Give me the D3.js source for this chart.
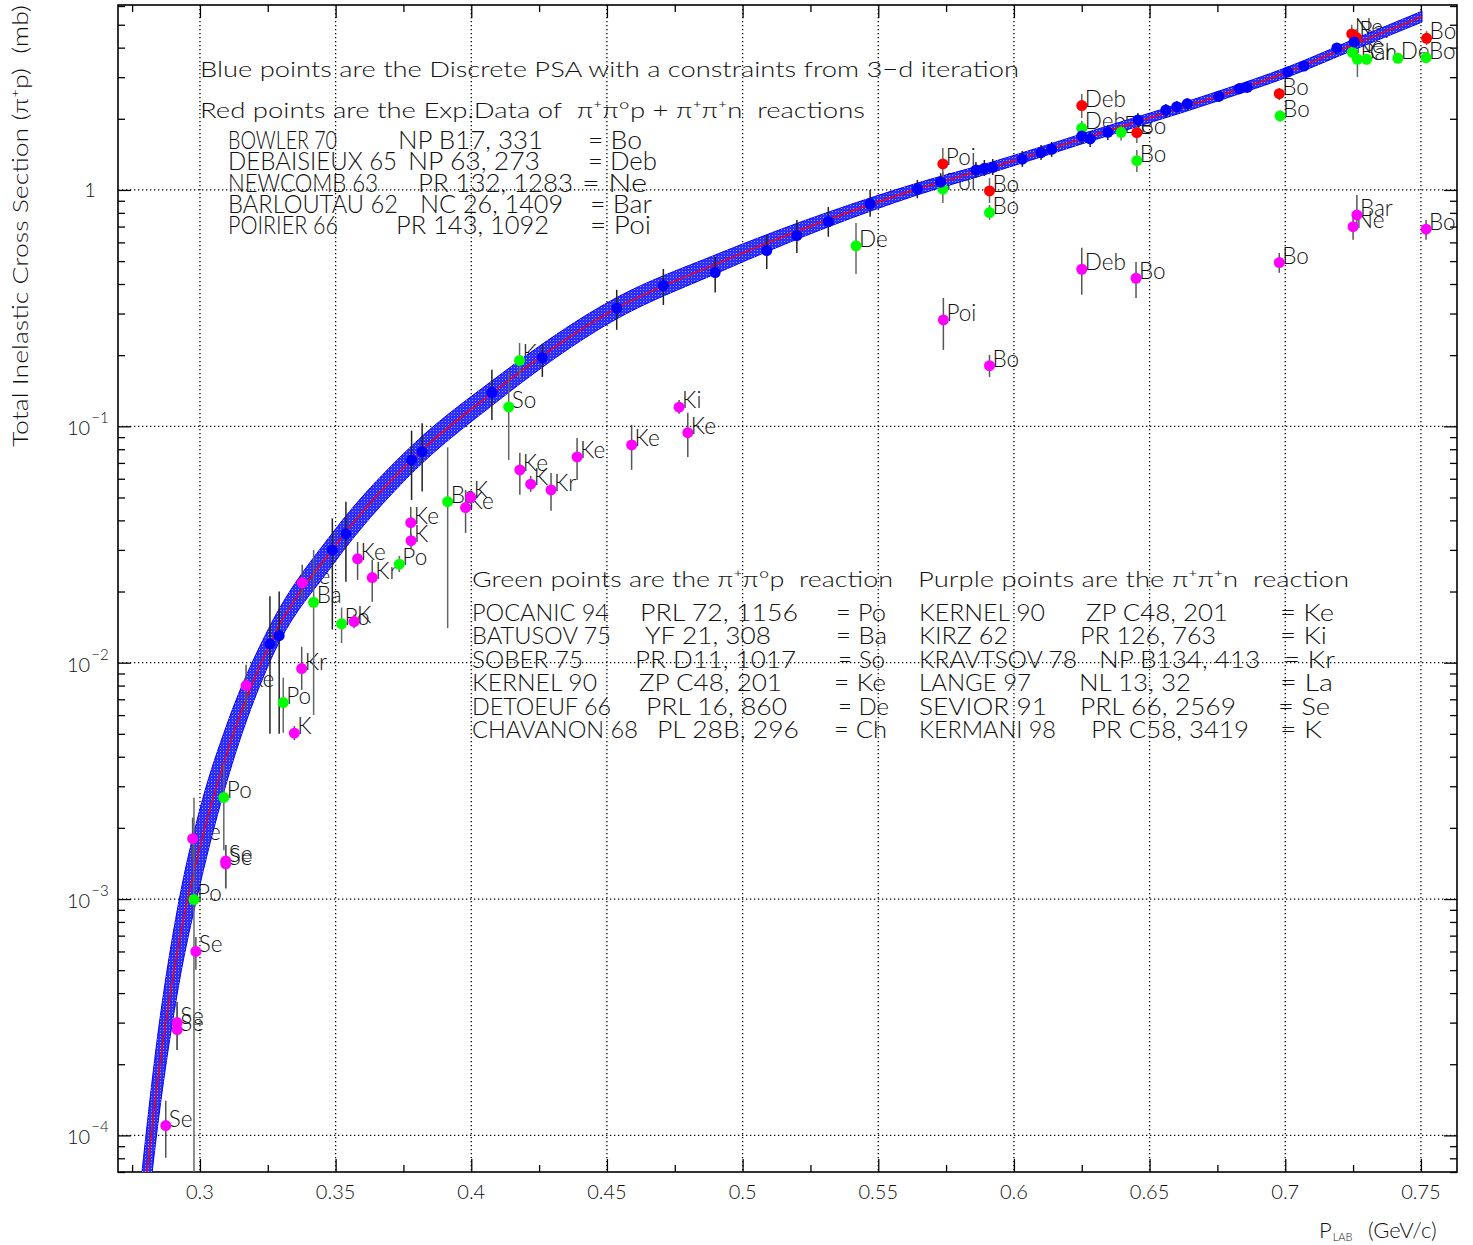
<!DOCTYPE html>
<html>
<head>
<meta charset="utf-8">
<script src="https://cdn.jsdelivr.net/npm/d3@7"></script>
<style>
  body { margin: 0; background: #fff; }
  text { font-family: Lato, "DejaVu Sans", sans-serif; font-weight: 300; fill: #111; white-space: pre; }
</style>
</head>
<body>
<svg id="chart" width="1473" height="1245"></svg>
<script>
// ---------- axes ----------
const xDomain = [0.2698, 0.7633];          // P_LAB (GeV/c)
const yDomain = [7.0e-5, 6.06];            // sigma (mb), log scale
const xMajorTicks = [0.3, 0.35, 0.4, 0.45, 0.5, 0.55, 0.6, 0.65, 0.7, 0.75];
const xTickLabels = ["0.3", "0.35", "0.4", "0.45", "0.5", "0.55", "0.6", "0.65", "0.7", "0.75"];
const xMinorTicks = [0.275, 0.325, 0.375, 0.425, 0.475, 0.525, 0.575, 0.625, 0.675, 0.725];
const yDecades = [1e-4, 1e-3, 1e-2, 1e-1, 1];
const yTickLabels = [["10", "\u22124"], ["10", "\u22123"], ["10", "\u22122"], ["10", "\u22121"], ["1", ""]];

// ---------- PSA curve with its error band ----------
const curveMomentum = [0.2785, 0.2843, 0.2920, 0.3000, 0.3100, 0.3258, 0.3488, 0.3781, 0.4076, 0.4536,
                       0.4899, 0.5316, 0.5644, 0.5922, 0.6250, 0.6755, 0.7009, 0.7254, 0.7504];
const curveSigma    = [4.27e-5, 1.66e-4, 6.31e-4, 1.66e-3, 4.17e-3, 0.01202, 0.0302, 0.0724, 0.138, 0.316,
                       0.484, 0.750, 1.009, 1.250, 1.644, 2.500, 3.155, 4.127, 5.408];
const curveBandDex  = [0.20, 0.19, 0.175, 0.16, 0.12, 0.075, 0.068, 0.058, 0.052, 0.045,
                       0.040, 0.031, 0.025, 0.022, 0.021, 0.020, 0.021, 0.022, 0.023];

// ---------- blue: discrete PSA points [p, sigma, low, high] ----------
const psaPoints = [
  [0.3258, 0.0120, 0.0050, 0.0191], [0.3292, 0.0130, 0.0050, 0.0200],
  [0.3488, 0.0300, 0.0138, 0.0408], [0.3538, 0.0351, 0.0220, 0.0479],
  [0.3780, 0.0721, 0.0488, 0.0959], [0.3819, 0.0781, 0.0530, 0.1031],
  [0.4076, 0.139, 0.1064, 0.1733],  [0.4262, 0.1955, 0.1618, 0.2208],
  [0.4536, 0.316, 0.256, 0.378],    [0.4708, 0.394, 0.326, 0.463],
  [0.4899, 0.447, 0.368, 0.522],    [0.5089, 0.554, 0.463, 0.645],
  [0.5200, 0.641, 0.541, 0.747],    [0.5316, 0.734, 0.634, 0.847],
  [0.5470, 0.873, 0.771, 1.000],    [0.5644, 1.010, 0.922, 1.102],
  [0.5730, 1.078, 0.987, 1.177],    [0.5860, 1.215, 1.124, 1.314],
  [0.5891, 1.235, 1.146, 1.339],    [0.5922, 1.247, 1.157, 1.352],
  [0.6031, 1.349, 1.251, 1.462],    [0.6100, 1.438, 1.339, 1.550],
  [0.6139, 1.486, 1.379, 1.596],    [0.6250, 1.692, 1.565, 1.829],
  [0.6281, 1.643, 1.520, 1.777],    [0.6346, 1.754, 1.627, 1.884],
  [0.6457, 1.978, 1.847, 2.117],    [0.6560, 2.180, 2.036, 2.311],
  [0.6600, 2.251, 2.117, 2.379],    [0.6639, 2.318, 2.180, 2.450],
  [0.6755, 2.491, 2.356, 2.623],    [0.6830, 2.683, 2.547, 2.836],
  [0.6860, 2.719, 2.572, 2.864],    [0.7009, 3.156, 3.006, 3.313],
  [0.7069, 3.345, 3.187, 3.513],    [0.7190, 3.988, 3.798, 4.188],
  [0.7254, 4.228, 3.988, 4.439]
];

// ---------- red: pi+pi0p + pi+pi+n sum [p, sigma, low, high, ref] ----------
const sumPoints = [
  [0.5738, 1.288, 1.102, 1.506, "Poi"], [0.5910, 0.990, 0.881, 1.124, "Bo"],
  [0.6250, 2.274, 2.017, 2.547, "Deb"], [0.6453, 1.747, 1.580, 1.940, "Bo"],
  [0.6978, 2.555, 2.400, 2.700, "Bo"],  [0.7245, 4.570, 4.200, 5.000, "Ne"],
  [0.7262, 4.420, 4.100, 4.800, "Bar"], [0.7521, 4.380, 4.100, 4.700, "Bo"]
];

// ---------- green: pi+pi0p [p, sigma, low, high, ref] ----------
const pi0pPoints = [
  [0.7247, 3.823, 3.600, 4.050, "Ne"],  [0.7266, 3.572, 3.006, 3.900, "Bar"],
  [0.7300, 3.572, 3.400, 3.750, "Ch"],  [0.7415, 3.607, 3.450, 3.780, "De"],
  [0.7519, 3.628, 3.450, 3.800, "Bo"],  [0.6981, 2.056, 1.950, 2.170, "Bo"],
  [0.6250, 1.824, 1.700, 1.960, "Deb"], [0.6395, 1.754, 1.620, 1.900, "De"],
  [0.6453, 1.330, 1.191, 1.476, "Bo"],  [0.5738, 1.007, 0.881, 1.191, "Poi"],
  [0.5910, 0.802, 0.747, 0.864, "Bo"],  [0.5418, 0.580, 0.441, 0.725, "De"],
  [0.4178, 0.190, 0.160, 0.2254, "Ke"], [0.4138, 0.1208, 0.0721, 0.1698, "So"],
  [0.3913, 0.0480, 0.0140, 0.0815, "Ba"], [0.3735, 0.0261, 0.0242, 0.0283, "Po"],
  [0.3419, 0.0180, 0.0060, 0.0300, "Ba"], [0.3522, 0.0146, 0.0121, 0.0171, "Po"],
  [0.3307, 0.00678, 0.00505, 0.00863, "Po"], [0.3088, 0.00269, 0.00161, 0.00377, "Po"],
  [0.2978, 0.000995, 0.00001, 0.00268, "Po"]
];

// ---------- purple: pi+pi+n [p, sigma, low, high, ref] ----------
const pipnPoints = [
  [0.7264, 0.784, 0.710, 0.953, "Bar"],  [0.7250, 0.6995, 0.615, 0.799, "Ne"],
  [0.7519, 0.682, 0.615, 0.747, "Bo"],   [0.6978, 0.4927, 0.446, 0.541, "Bo"],
  [0.6250, 0.4618, 0.360, 0.569, "Deb"], [0.6450, 0.4231, 0.349, 0.496, "Bo"],
  [0.5740, 0.2818, 0.2105, 0.349, "Poi"], [0.5910, 0.1806, 0.1618, 0.2005, "Bo"],
  [0.4766, 0.1205, 0.1129, 0.1293, "Ki"], [0.4798, 0.0940, 0.0742, 0.114, "Ke"],
  [0.4591, 0.0834, 0.0654, 0.1014, "Ke"], [0.4390, 0.0742, 0.0593, 0.0893, "Ke"],
  [0.4179, 0.0654, 0.0513, 0.0772, "Ke"], [0.4219, 0.0569, 0.0528, 0.0617, "K"],
  [0.4294, 0.0538, 0.0439, 0.0635, "Kr"], [0.3979, 0.0453, 0.0354, 0.0538, "Ke"],
  [0.3998, 0.0501, 0.0470, 0.0535, "K"],  [0.3777, 0.0391, 0.0331, 0.0456, "Ke"],
  [0.3778, 0.0328, 0.0305, 0.0352, "K"],  [0.3581, 0.0275, 0.0224, 0.0324, "Ke"],
  [0.3635, 0.0229, 0.0181, 0.0272, "Kr"], [0.3568, 0.01493, 0.0140, 0.0160, "K"],
  [0.3377, 0.02176, 0.01843, 0.02593, "Ke"], [0.3375, 0.00944, 0.00767, 0.01167, "Kr"],
  [0.3348, 0.00503, 0.00470, 0.00540, "K"], [0.3170, 0.0080, 0.0062, 0.0098, "Ke"],
  [0.2973, 0.00180, 0.00147, 0.00221, "Ke"], [0.3095, 0.00145, 0.00111, 0.00169, "Se"],
  [0.3095, 0.00141, 0.00111, 0.00169, "Se"], [0.2985, 0.00060, 0.000502, 0.00069, "Se"],
  [0.2916, 0.00030, 0.000230, 0.000367, "Se"], [0.2916, 0.00028, 0.000230, 0.000367, "Se"],
  [0.2874, 0.00011, 0.0000804, 0.00014, "Se"]
];

// ---------- text blocks ----------
const headerLines = [
  "Blue points are the Discrete PSA with a constraints from 3\u2212d iteration",
  "Red points are the Exp.Data of  \u03c0\u207a\u03c0\u00b0p + \u03c0\u207a\u03c0\u207an  reactions"
];
const sumRefs = [
  ["BOWLER 70", "NP B17, 331", "= Bo"],
  ["DEBAISIEUX 65", "NP 63, 273", "= Deb"],
  ["NEWCOMB 63", "PR 132, 1283", "= Ne"],
  ["BARLOUTAU 62", "NC 26, 1409", "= Bar"],
  ["POIRIER 66", "PR 143, 1092", "= Poi"]
];
const pi0pTitle = "Green points are the \u03c0\u207a\u03c0\u00b0p  reaction";
const pipnTitle = "Purple points are the \u03c0\u207a\u03c0\u207an  reaction";
const pi0pRefs = [
  ["POCANIC 94", "PRL 72, 1156", "= Po"],
  ["BATUSOV 75", "YF 21, 308", "= Ba"],
  ["SOBER 75", "PR D11, 1017", "= So"],
  ["KERNEL 90", "ZP C48, 201", "= Ke"],
  ["DETOEUF 66", "PRL 16, 860", "= De"],
  ["CHAVANON 68", "PL 28B, 296", "= Ch"]
];
const pipnRefs = [
  ["KERNEL 90", "ZP C48, 201", "= Ke"],
  ["KIRZ 62", "PR 126, 763", "= Ki"],
  ["KRAVTSOV 78", "NP B134, 413", "= Kr"],
  ["LANGE 97", "NL 13, 32", "= La"],
  ["SEVIOR 91", "PRL 66, 2569", "= Se"],
  ["KERMANI 98", "PR C58, 3419", "= K"]
];

// ================= drawing =================
const svg = d3.select("#chart");
const L = 118, R = 1457, T = 5, B = 1172;
const x = d3.scaleLinear().domain(xDomain).range([L, R]);
const y = d3.scaleLog().domain(yDomain).range([B, T]);

const defs = svg.append("defs");
defs.append("clipPath").attr("id", "plotClip")
  .append("rect").attr("x", L).attr("y", T).attr("width", R - L).attr("height", B - T);
// light speckle laid over the blue band
const pat = defs.append("pattern").attr("id", "bandSpeckle")
  .attr("patternUnits", "userSpaceOnUse").attr("width", 3).attr("height", 3);
pat.append("rect").attr("x", 1).attr("y", 1).attr("width", 1).attr("height", 1).attr("fill", "#9a9aff");

// grid
const grid = svg.append("g").attr("stroke", "#000").attr("stroke-width", 1.3)
  .attr("stroke-dasharray", "1.3,2.7");
grid.selectAll(".gx").data(xMajorTicks).join("line")
  .attr("x1", d => x(d)).attr("x2", d => x(d)).attr("y1", T).attr("y2", B);
grid.selectAll(".gy").data(yDecades).join("line")
  .attr("x1", L).attr("x2", R).attr("y1", d => y(d)).attr("y2", d => y(d));

// axes ticks (inward), drawn with d3 axes
const yMinor = [];
for (let e = -5; e <= 0; e++) for (let m = 2; m <= 9; m++) {
  const v = m * Math.pow(10, e);
  if (v > yDomain[0] && v < yDomain[1]) yMinor.push(v);
}
function axisGroup(axis, tx, ty) {
  const g = svg.append("g").attr("transform", `translate(${tx},${ty})`).call(axis);
  g.select(".domain").remove();
  g.selectAll("line").attr("stroke", "#000").attr("stroke-width", 1.3);
  g.selectAll("text").remove();
}
axisGroup(d3.axisBottom(x).tickValues(xMajorTicks).tickSize(-13), 0, B);
axisGroup(d3.axisBottom(x).tickValues(xMinorTicks).tickSize(-7), 0, B);
axisGroup(d3.axisTop(x).tickValues(xMajorTicks).tickSize(-13), 0, T);
axisGroup(d3.axisTop(x).tickValues(xMinorTicks).tickSize(-7), 0, T);
axisGroup(d3.axisLeft(y).tickValues(yDecades).tickSize(-13), L, 0);
axisGroup(d3.axisLeft(y).tickValues(yMinor).tickSize(-7), L, 0);
axisGroup(d3.axisRight(y).tickValues(yDecades).tickSize(-13), R, 0);
axisGroup(d3.axisRight(y).tickValues(yMinor).tickSize(-7), R, 0);

svg.append("rect").attr("x", L).attr("y", T).attr("width", R - L).attr("height", B - T)
  .attr("fill", "none").attr("stroke", "#000").attr("stroke-width", 1.6);

// tick labels
svg.append("g").selectAll("text").data(xMajorTicks).join("text")
  .attr("x", d => x(d)).attr("y", 1199).attr("text-anchor", "middle")
  .attr("font-size", 20).text((d, i) => xTickLabels[i]);
const yl = svg.append("g");
yDecades.forEach((d, i) => {
  const [base, sup] = yTickLabels[i];
  if (!sup) {
    yl.append("text").attr("x", 90).attr("y", y(d) + 7).attr("text-anchor", "middle")
      .attr("font-size", 20).text(base);
  } else {
    const t = yl.append("text").attr("x", 67).attr("y", y(d) + 9).attr("font-size", 20);
    t.append("tspan").text(base);
    t.append("tspan").attr("dy", -12).attr("dx", 1).attr("font-size", 15).text(sup);
  }
});

// axis titles
svg.append("text").attr("transform", "translate(28,5) rotate(-90)")
  .attr("text-anchor", "end").attr("font-size", 21).attr("textLength", 442)
  .attr("lengthAdjust", "spacingAndGlyphs")
  .text("Total Inelastic Cross Section (\u03c0\u207ap)  (mb)");
const xt = svg.append("text").attr("x", 1319).attr("y", 1238).attr("font-size", 22);
xt.append("tspan").text("P");
xt.append("tspan").attr("font-size", 11).attr("dy", 3).attr("dx", 1).text("LAB");
xt.append("tspan").attr("x", 1368).attr("dy", -3).text("(GeV/c)");

// header and reference tables
function txt(s, tx, ty, size, len) {
  const t = svg.append("text").attr("x", tx).attr("y", ty).attr("font-size", size).text(s);
  if (len) t.attr("textLength", len).attr("lengthAdjust", "spacingAndGlyphs");
  return t;
}
txt(headerLines[0], 200, 77, 22, 819);
txt(headerLines[1], 200, 118, 22, 665);
const sumLayout = {
  nameLen: [109, 169, 150, 170, 110],
  refX: [398, 408, 418, 420, 396], refLen: [145, 132, 155, 143, 153],
  eqX: [588, 588, 582, 590, 590], eqLen: [54, 69, 65, 62, 61]
};
sumRefs.forEach((row, i) => {
  const by = 149 + i * 21.3;
  txt(row[0], 228, by, 25, sumLayout.nameLen[i]);
  txt(row[1], sumLayout.refX[i], by, 25, sumLayout.refLen[i]);
  txt(row[2], sumLayout.eqX[i], by, 25, sumLayout.eqLen[i]);
});
txt(pi0pTitle, 472, 587, 22, 421);
txt(pipnTitle, 918, 587, 22, 431);
const pi0pLayout = {
  nameLen: [137, 139, 111, 125, 139, 166],
  refX: [640, 645, 635, 639, 646, 657], refLen: [158, 126, 161, 143, 141, 142],
  eqX: [836, 836, 838, 834, 838, 834], eqLen: [50, 51, 47, 52, 51, 53]
};
const pipnLayout = {
  nameLen: [126, 89, 158, 112, 128, 137],
  refX: [1086, 1080, 1099, 1079, 1080, 1091], refLen: [142, 136, 161, 112, 156, 158],
  eqX: [1280, 1280, 1284, 1280, 1278, 1280], eqLen: [54, 47, 51, 53, 52, 42]
};
[[pi0pRefs, pi0pLayout, 472], [pipnRefs, pipnLayout, 919]].forEach(([rows, lay, x0]) => {
  rows.forEach((row, i) => {
    const by = 621 + i * 23.4;
    txt(row[0], x0, by, 24, lay.nameLen[i]);
    txt(row[1], lay.refX[i], by, 24, lay.refLen[i]);
    txt(row[2], lay.eqX[i], by, 24, lay.eqLen[i]);
  });
});

// point labels (drawn under the band, as in the plot)
const labelled = [...sumPoints, ...pi0pPoints, ...pipnPoints];
const plot = svg.append("g").attr("clip-path", "url(#plotClip)");
plot.append("g").selectAll("text").data(labelled).join("text")
  .attr("x", d => x(d[0]) + 3).attr("y", d => y(d[1]) + 1)
  .attr("font-size", 22.5).attr("fill", "#222").text(d => d[4]);

// PSA band + central curve
const cdata = curveMomentum.map((p, i) => ({ p, s: curveSigma[i], b: curveBandDex[i] }));
const bandArea = d3.area().curve(d3.curveMonotoneX)
  .x(d => x(d.p)).y0(d => y(d.s / Math.pow(10, d.b))).y1(d => y(d.s * Math.pow(10, d.b)));
plot.append("path").datum(cdata).attr("d", bandArea)
  .attr("fill", "#2e2eff").attr("stroke", "#0000ff").attr("stroke-width", 1);
plot.append("path").datum(cdata).attr("d", bandArea).attr("fill", "url(#bandSpeckle)");
plot.append("path").datum(cdata)
  .attr("d", d3.line().curve(d3.curveMonotoneX).x(d => x(d.p)).y(d => y(d.s)))
  .attr("fill", "none").attr("stroke", "#ff0000").attr("stroke-width", 1.4);

// error bars and markers
const allSeries = [
  [sumPoints, "#ff0000", "#666"], [pi0pPoints, "#00ff00", "#666"],
  [pipnPoints, "#ff00ff", "#555"], [psaPoints, "#0000ff", "#222"]
];
allSeries.forEach(([pts, col, barCol]) => {
  plot.append("g").selectAll("line").data(pts).join("line")
    .attr("x1", d => x(d[0])).attr("x2", d => x(d[0]))
    .attr("y1", d => y(Math.max(d[2], 1e-6))).attr("y2", d => y(d[3]))
    .attr("stroke", barCol).attr("stroke-width", 1.5);
});
allSeries.forEach(([pts, col]) => {
  plot.append("g").selectAll("circle").data(pts).join("circle")
    .attr("cx", d => x(d[0])).attr("cy", d => y(d[1])).attr("r", 5.5).attr("fill", col);
});
</script>
</body>
</html>
